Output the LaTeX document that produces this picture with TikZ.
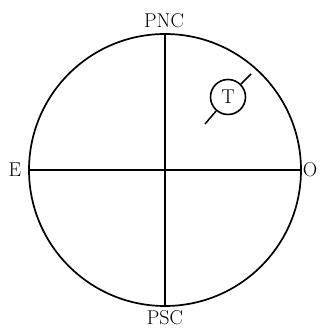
\documentclass[tikz,border=0pt]{standalone}
\begin{document}
\begin{tikzpicture}[x=1pt,y=1pt,
  lbl/.style={font=\fontsize{20}{22}\selectfont, inner sep=0pt},
  ln/.style={line width=1.5pt}]
\useasboundingbox (0,0) rectangle (320,328);
\node[draw, circle, line width=1.7pt, minimum size=272pt, inner sep=0pt] (big) at (165,158) {};
\draw[ln] (big.north) -- (big.south);
\draw[ln] (big.west) -- (big.east);
\node[lbl] (pnc) at (164,307) {PNC};
\node[lbl] (psc) at (165,10) {PSC};
\node[lbl] (e) at (15,158) {E};
\node[lbl] (o) at (310,158) {O};
\node[draw, circle, line width=1.6pt, minimum size=35pt, inner sep=0pt, font=\fontsize{20}{22}\selectfont] (t) at (228,231) {T};
\coordinate (d1) at (205,204);
\coordinate (d2) at (251,254);
\draw[ln] (d1) -- (t);
\draw[ln] (t) -- (d2);
\end{tikzpicture}
\end{document}
